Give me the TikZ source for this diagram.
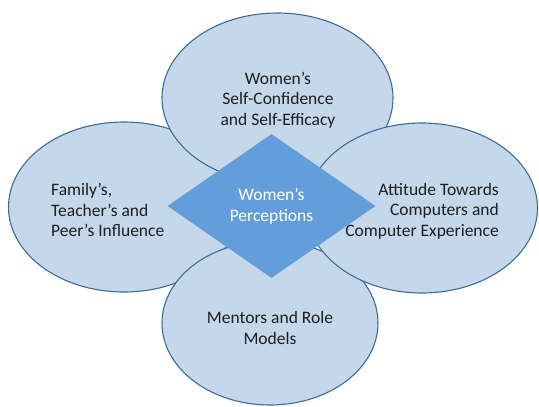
\documentclass[tikz,border=0pt]{standalone}
\usepackage{fontspec}
\setmainfont{Carlito}
\usetikzlibrary{shapes.geometric}
\definecolor{ellfill}{RGB}{197,215,235}
\definecolor{elldraw}{RGB}{62,108,150}
\definecolor{diafill}{RGB}{100,158,218}
\definecolor{txt}{RGB}{30,30,30}
\tikzset{
  petal/.style={ellipse, draw=elldraw, fill=ellfill, line width=1.1pt, inner sep=0pt},
  lbl/.style={inner sep=0pt, text=txt, font=\fontsize{17.5}{20.5}\selectfont},
  core/.style={diamond, fill=diafill, inner sep=0pt, minimum width=208pt, minimum height=144pt,
    text=white, font=\fontsize{17.5}{20.5}\selectfont, align=center}
}
\begin{document}
\begin{tikzpicture}[x=1pt,y=-1pt]
\useasboundingbox (0,0) rectangle (539,407);
\node[petal, minimum width=231pt, minimum height=170pt] (left) at (124,207) {};
\node[petal, minimum width=231pt, minimum height=170pt] (top) at (277.5,98) {};
\node[petal, minimum width=216pt, minimum height=164pt] (bottom) at (270,323) {};
\node[petal, minimum width=231pt, minimum height=170pt] (right) at (422,208) {};
\node[core] (center) at (271.5,206) {Women’s\\Perceptions};
\node[lbl, align=center] (ttop) at (278,100) {Women’s\\Self-Confidence\\and Self-Efficacy};
\node[lbl, align=left, anchor=west] (tleft) at (51,210) {Family’s,\\Teacher’s and\\Peer’s Influence};
\node[lbl, align=right, anchor=east] (tright) at (499,211) {Attitude Towards\\Computers and\\Computer Experience};
\node[lbl, align=center] (tbottom) at (270,328) {Mentors and Role\\Models};
\end{tikzpicture}
\end{document}
